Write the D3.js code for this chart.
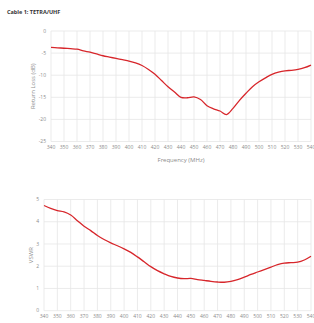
<!DOCTYPE html>
<html lang="en">
<head>
    <meta charset="UTF-8">
    <title>Cable 1: TETRA/UHF</title>
    <script src="https://d3js.org/d3.v7.min.js"></script>
    <style>
        body {
            margin: 0;
            background: white;
            font-family: "Open Sans", sans-serif;
        }
        .grid line {
            stroke: #e6e6e6;
            stroke-width: 0.8;
        }
        .tick-label {
            fill: #8c8c8c;
            font-size: 5px;
        }
        .axis-title {
            fill: #8c8c8c;
            font-size: 6px;
        }
    </style>
</head>
<body>
<svg id="viz" width="314" height="323"></svg>
<script>
    // frequency in MHz, every 5 MHz
    var freqs = d3.range(340, 541, 5);
    var returnLoss = [-3.7, -3.8, -3.9, -4.0, -4.1, -4.5, -4.8, -5.2, -5.6, -5.9,
        -6.2, -6.5, -6.8, -7.2, -7.8, -8.7, -9.8, -11.2, -12.6, -13.8,
        -15.0, -15.1, -14.9, -15.5, -16.9, -17.6, -18.1, -18.9, -17.5, -15.7,
        -14.1, -12.6, -11.5, -10.6, -9.8, -9.3, -9.0, -8.9, -8.7, -8.3, -7.7];
    var vswr = [4.73, 4.60, 4.50, 4.44, 4.30, 4.05, 3.80, 3.60, 3.38, 3.20,
        3.05, 2.92, 2.78, 2.62, 2.42, 2.20, 1.98, 1.80, 1.66, 1.54,
        1.47, 1.44, 1.45, 1.40, 1.36, 1.32, 1.29, 1.28, 1.32, 1.40,
        1.51, 1.63, 1.74, 1.85, 1.96, 2.07, 2.14, 2.16, 2.18, 2.28, 2.45];
    var xTicks = d3.range(340, 541, 10);
    var rlTicks = [0, -5, -10, -15, -20, -25];
    var vswrTicks = [0, 1, 2, 3, 4, 5];

    var svg = d3.select("#viz");

    svg.append("text")
        .attr("x", 7)
        .attr("y", 14)
        .attr("font-size", "5.5px")
        .attr("font-weight", "bold")
        .attr("fill", "#333")
        .text("Cable 1: TETRA/UHF");

    function drawChart(opt) {
        var x = d3.scaleLinear().domain([340, 540]).range([opt.left, opt.right]);
        var y = d3.scaleLinear().domain(opt.yDomain).range([opt.bottom, opt.top]);
        var g = svg.append("g");

        var grid = g.append("g").attr("class", "grid");
        grid.selectAll("line.v")
            .data(xTicks)
            .enter().append("line")
            .attr("x1", function (d) { return x(d); })
            .attr("x2", function (d) { return x(d); })
            .attr("y1", opt.top)
            .attr("y2", opt.bottom);
        grid.selectAll("line.h")
            .data(opt.yTicks)
            .enter().append("line")
            .attr("x1", opt.left)
            .attr("x2", opt.right)
            .attr("y1", function (d) { return y(d); })
            .attr("y2", function (d) { return y(d); });

        g.selectAll("text.xl")
            .data(xTicks)
            .enter().append("text")
            .attr("class", "tick-label")
            .attr("x", function (d) { return x(d); })
            .attr("y", opt.bottom + 7.5)
            .attr("text-anchor", "middle")
            .text(function (d) { return d; });

        g.selectAll("text.yl")
            .data(opt.yTicks)
            .enter().append("text")
            .attr("class", "tick-label")
            .attr("x", opt.left - 5)
            .attr("y", function (d) { return y(d) + 1.7; })
            .attr("text-anchor", "end")
            .text(function (d) { return d; });

        g.append("text")
            .attr("class", "axis-title")
            .attr("transform", "translate(" + opt.yTitleX + "," + (opt.top + opt.bottom) / 2 + ") rotate(-90)")
            .attr("text-anchor", "middle")
            .text(opt.yTitle);

        if (opt.xTitle) {
            g.append("text")
                .attr("class", "axis-title")
                .attr("x", (opt.left + opt.right) / 2)
                .attr("y", opt.bottom + 20)
                .attr("text-anchor", "middle")
                .text(opt.xTitle);
        }

        var line = d3.line()
            .x(function (d, i) { return x(freqs[i]); })
            .y(function (d) { return y(d); })
            .curve(d3.curveCatmullRom);

        g.append("path")
            .datum(opt.values)
            .attr("fill", "none")
            .attr("stroke", "#d7262b")
            .attr("stroke-width", 1.3)
            .attr("d", line);
    }

    drawChart({
        left: 51, right: 311, top: 31, bottom: 141.5,
        yDomain: [-25, 0], yTicks: rlTicks, values: returnLoss,
        yTitle: "Return Loss (dB)", yTitleX: 35,
        xTitle: "Frequency (MHz)"
    });

    drawChart({
        left: 44, right: 311, top: 199.5, bottom: 310.7,
        yDomain: [0, 5], yTicks: vswrTicks, values: vswr,
        yTitle: "VSWR", yTitleX: 33
    });
</script>
</body>
</html>
